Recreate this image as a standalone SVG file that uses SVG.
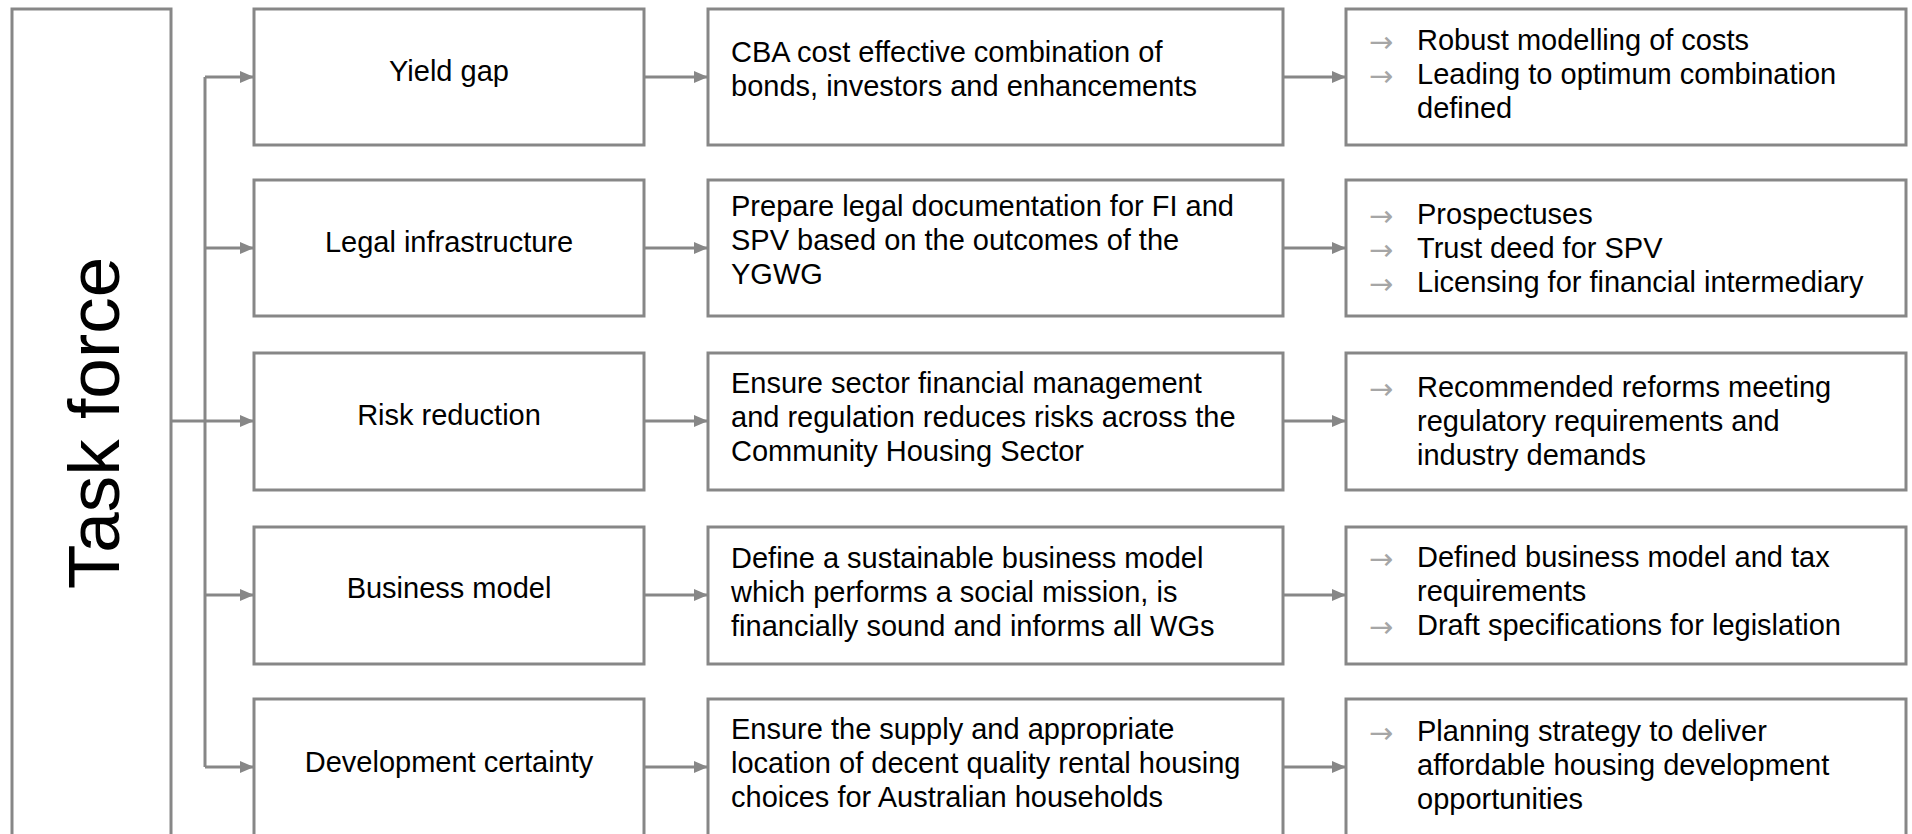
<svg xmlns="http://www.w3.org/2000/svg" width="1912" height="834" viewBox="0 0 1912 834">
  <defs>
    <marker id="ah" viewBox="0 0 14 12" refX="14" refY="6" markerWidth="14" markerHeight="12" markerUnits="userSpaceOnUse" orient="auto">
      <path d="M0,0 L14,6 L0,12 Z" fill="#878787"/>
    </marker>
    <style>
      .box { fill: #ffffff; stroke: #878787; stroke-width: 3; }
      .t { font-family: "Liberation Sans", Arial, sans-serif; font-size: 29px; fill: #000000; }
      .c { text-anchor: middle; }
      .b { font-family: "DejaVu Sans", "Liberation Sans", sans-serif; font-size: 29px; fill: #a6a6a6; }
      .ln { fill: none; stroke: #878787; stroke-width: 3; }
      .ar { fill: none; stroke: #878787; stroke-width: 3; marker-end: url(#ah); }
      .big { font-family: "Liberation Sans", Arial, sans-serif; font-size: 73px; fill: #000000; text-anchor: middle; }
    </style>
  </defs>
  <rect width="1912" height="834" fill="#ffffff"/>

  <g id="taskforce">
    <rect class="box" x="12" y="9" width="159" height="860"/>
    <text class="big" transform="translate(119,423) rotate(-90)">Task force</text>
  </g>

  <g id="connectors">
    <path class="ar" d="M171,421 L254,421"/>
    <path class="ln" d="M205,77 L205,767"/>
    <path class="ar" d="M205,77 L254,77"/>
    <path class="ar" d="M205,248 L254,248"/>
    <path class="ar" d="M205,595 L254,595"/>
    <path class="ar" d="M205,767 L254,767"/>
    <path class="ar" d="M644,77 L708,77"/>
    <path class="ar" d="M644,248 L708,248"/>
    <path class="ar" d="M644,421 L708,421"/>
    <path class="ar" d="M644,595 L708,595"/>
    <path class="ar" d="M644,767 L708,767"/>
    <path class="ar" d="M1283,77 L1346,77"/>
    <path class="ar" d="M1283,248 L1346,248"/>
    <path class="ar" d="M1283,421 L1346,421"/>
    <path class="ar" d="M1283,595 L1346,595"/>
    <path class="ar" d="M1283,767 L1346,767"/>
  </g>

  <g id="yield-gap">
    <rect class="box" x="254" y="9" width="390" height="136"/>
    <text class="t c" x="449" y="81">Yield gap</text>
  </g>
  <g id="legal-infrastructure">
    <rect class="box" x="254" y="180" width="390" height="136"/>
    <text class="t c" x="449" y="252">Legal infrastructure</text>
  </g>
  <g id="risk-reduction">
    <rect class="box" x="254" y="353" width="390" height="137"/>
    <text class="t c" x="449" y="425">Risk reduction</text>
  </g>
  <g id="business-model">
    <rect class="box" x="254" y="527" width="390" height="137"/>
    <text class="t c" x="449" y="598">Business model</text>
  </g>
  <g id="development-certainty">
    <rect class="box" x="254" y="699" width="390" height="160"/>
    <text class="t c" x="449" y="772">Development certainty</text>
  </g>

  <g id="yield-gap-action">
    <rect class="box" x="708" y="9" width="575" height="136"/>
    <text class="t" x="731" y="62">CBA cost effective combination of</text>
    <text class="t" x="731" y="96">bonds, investors and enhancements</text>
  </g>
  <g id="legal-action">
    <rect class="box" x="708" y="180" width="575" height="136"/>
    <text class="t" x="731" y="216">Prepare legal documentation for FI and</text>
    <text class="t" x="731" y="250">SPV based on the outcomes of the</text>
    <text class="t" x="731" y="284">YGWG</text>
  </g>
  <g id="risk-action">
    <rect class="box" x="708" y="353" width="575" height="137"/>
    <text class="t" x="731" y="393">Ensure sector financial management</text>
    <text class="t" x="731" y="427">and regulation reduces risks across the</text>
    <text class="t" x="731" y="461">Community Housing Sector</text>
  </g>
  <g id="business-action">
    <rect class="box" x="708" y="527" width="575" height="137"/>
    <text class="t" x="731" y="568">Define a sustainable business model</text>
    <text class="t" x="731" y="602">which performs a social mission, is</text>
    <text class="t" x="731" y="636">financially sound and informs all WGs</text>
  </g>
  <g id="development-action">
    <rect class="box" x="708" y="699" width="575" height="160"/>
    <text class="t" x="731" y="739">Ensure the supply and appropriate</text>
    <text class="t" x="731" y="773">location of decent quality rental housing</text>
    <text class="t" x="731" y="807">choices for Australian households</text>
  </g>

  <g id="yield-gap-outcome">
    <rect class="box" x="1346" y="9" width="560" height="136"/>
    <text class="b" x="1369" y="52">→</text>
    <text class="t" x="1417" y="50">Robust modelling of costs</text>
    <text class="b" x="1369" y="86">→</text>
    <text class="t" x="1417" y="84">Leading to optimum combination</text>
    <text class="t" x="1417" y="118">defined</text>
  </g>
  <g id="legal-outcome">
    <rect class="box" x="1346" y="180" width="560" height="136"/>
    <text class="b" x="1369" y="226">→</text>
    <text class="t" x="1417" y="224">Prospectuses</text>
    <text class="b" x="1369" y="260">→</text>
    <text class="t" x="1417" y="258">Trust deed for SPV</text>
    <text class="b" x="1369" y="294">→</text>
    <text class="t" x="1417" y="292">Licensing for financial intermediary</text>
  </g>
  <g id="risk-outcome">
    <rect class="box" x="1346" y="353" width="560" height="137"/>
    <text class="b" x="1369" y="399">→</text>
    <text class="t" x="1417" y="397">Recommended reforms meeting</text>
    <text class="t" x="1417" y="431">regulatory requirements and</text>
    <text class="t" x="1417" y="465">industry demands</text>
  </g>
  <g id="business-outcome">
    <rect class="box" x="1346" y="527" width="560" height="137"/>
    <text class="b" x="1369" y="569">→</text>
    <text class="t" x="1417" y="567">Defined business model and tax</text>
    <text class="t" x="1417" y="601">requirements</text>
    <text class="b" x="1369" y="637">→</text>
    <text class="t" x="1417" y="635">Draft specifications for legislation</text>
  </g>
  <g id="development-outcome">
    <rect class="box" x="1346" y="699" width="560" height="160"/>
    <text class="b" x="1369" y="743">→</text>
    <text class="t" x="1417" y="741">Planning strategy to deliver</text>
    <text class="t" x="1417" y="775">affordable housing development</text>
    <text class="t" x="1417" y="809">opportunities</text>
  </g>
</svg>
